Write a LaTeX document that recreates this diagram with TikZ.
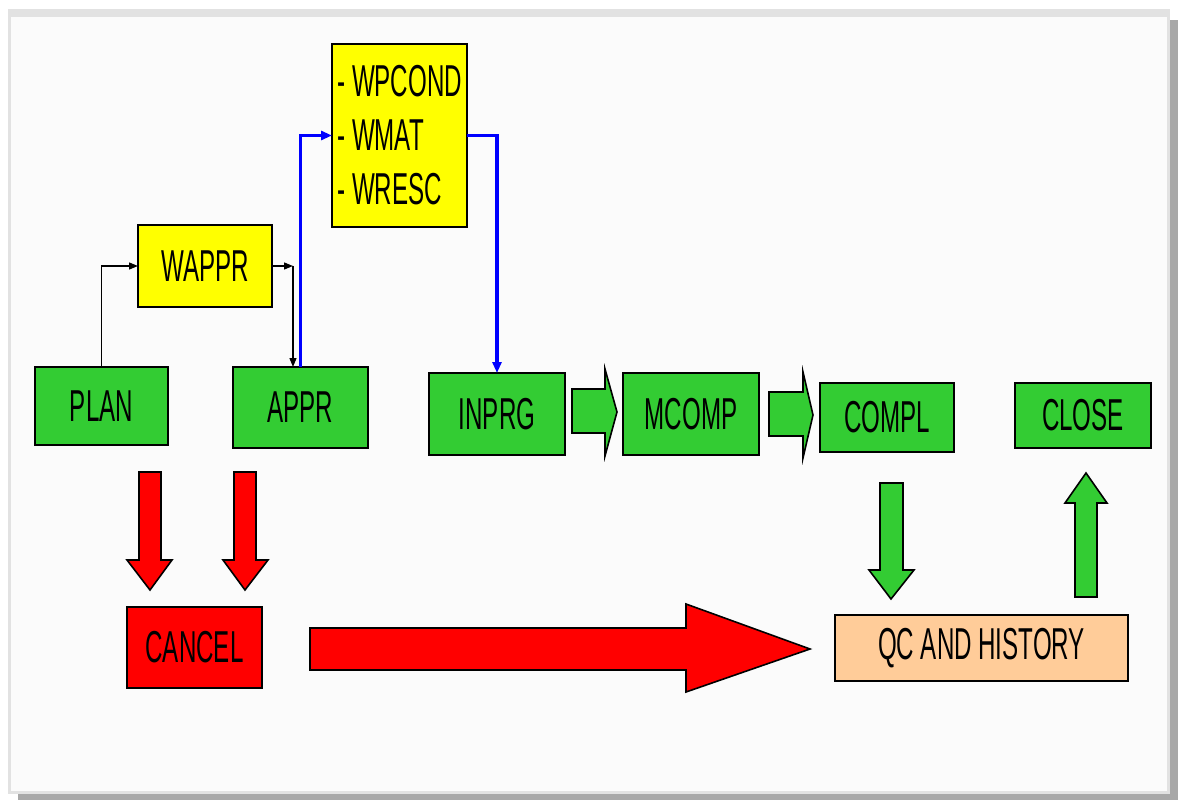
\documentclass[tikz,border=0pt]{standalone}
\usepackage{fontspec}
\newfontfamily\boxfont[FakeStretch=0.54]{Liberation Sans}
\usetikzlibrary{arrows.meta}
\definecolor{boxgreen}{HTML}{33CC33}
\definecolor{boxyellow}{HTML}{FFFF00}
\definecolor{boxred}{HTML}{FF0000}
\definecolor{boxpeach}{HTML}{FFCC99}
\definecolor{linkblue}{HTML}{0000FF}
\definecolor{panel}{HTML}{FBFBFB}
\definecolor{shadow}{HTML}{A8A8A8}
\definecolor{topedge}{HTML}{E2E2E2}
\tikzset{
  box/.style={draw=black, line width=2pt, inner sep=0pt, outer sep=0pt,
    font=\boxfont\fontsize{44.7pt}{54pt}\selectfont},
  greenbox/.style={box, fill=boxgreen},
  yellowbox/.style={box, fill=boxyellow},
  redbox/.style={box, fill=boxred},
  peachbox/.style={box, fill=boxpeach},
  blacklink/.style={draw=black, line width=1.3pt, -{Triangle[length=9pt,width=7pt]}},
  bluelink/.style={draw=linkblue, line width=3.5pt, -{Triangle[length=11pt,width=9pt]}},
  blockarrow/.style={draw=black, line width=1.6pt, line join=miter},
}
\begin{document}
\begin{tikzpicture}[x=1pt,y=-1pt]
\useasboundingbox (0,0) rectangle (1181,805);
% background panel
\fill[white] (0,0) rectangle (1181,805);
\fill[shadow] (18,20) rectangle (1178,800);
\fill[topedge] (8,9) rectangle (1170,794);
\fill[panel] (11,17) rectangle (1167,791);

% nodes
\node[greenbox, minimum width=133pt, minimum height=78pt] (plan) at (101.5,406) {PLAN};
\node[greenbox, minimum width=135pt, minimum height=81pt] (appr) at (300.5,407.5) {APPR};
\node[yellowbox, minimum width=134pt, minimum height=82pt] (wappr) at (205,266) {WAPPR};
\node[yellowbox, minimum width=135pt, minimum height=183pt, align=left] (wlist) at (399.5,135.5) {-\hspace{7pt}WPCOND\\-\hspace{7pt}WMAT\\-\hspace{7pt}WRESC};
\node[greenbox, minimum width=136pt, minimum height=82pt] (inprg) at (497,414) {INPRG};
\node[greenbox, minimum width=136pt, minimum height=82pt] (mcomp) at (691,414) {MCOMP};
\node[greenbox, minimum width=134pt, minimum height=69pt] (compl) at (887,417.5) {COMPL};
\node[greenbox, minimum width=136pt, minimum height=65pt] (close) at (1083,415.5) {CLOSE};
\node[redbox, minimum width=135pt, minimum height=81pt] (cancel) at (194.5,647.5) {CANCEL};
\node[peachbox, minimum width=293pt, minimum height=66pt] (qc) at (981.5,648) {QC AND HISTORY};

% thin black connectors
\draw[blacklink] (plan.north) |- (wappr.west);
\coordinate (k1) at (293,266);
\draw[blacklink] (wappr.east) -- (k1);
\draw[blacklink] (k1) -- (k1 |- appr.north);

% blue connectors
\draw[bluelink] (appr.north) |- (wlist.west);
\draw[bluelink] (wlist.east) -| (inprg.north);

% green block arrows between boxes
\draw[blockarrow, fill=boxgreen] (572,389) -- (605,389) -- (605,369) -- (617,412) -- (605,456) -- (605,433) -- (572,433) -- cycle;
\draw[blockarrow, fill=boxgreen] (769,392) -- (803,392) -- (803,372) -- (813,415) -- (803,458) -- (803,436) -- (769,436) -- cycle;
% green down / up arrows
\draw[blockarrow, fill=boxgreen] (880,483) -- (903,483) -- (903,570) -- (914,570) -- (891,599) -- (869,570) -- (880,570) -- cycle;
\draw[blockarrow, fill=boxgreen] (1075,597) -- (1097,597) -- (1097,503) -- (1107,503) -- (1086,473) -- (1065,503) -- (1075,503) -- cycle;

% red arrows
\draw[blockarrow, fill=boxred] (139,472) -- (161,472) -- (161,560) -- (172,560) -- (150,590) -- (127,560) -- (139,560) -- cycle;
\draw[blockarrow, fill=boxred] (234,472) -- (256,472) -- (256,560) -- (268,560) -- (245,590) -- (223,560) -- (234,560) -- cycle;
\draw[blockarrow, fill=boxred] (310,628) -- (686,628) -- (686,604) -- (810,649) -- (686,692) -- (686,670) -- (310,670) -- cycle;
\end{tikzpicture}
\end{document}
